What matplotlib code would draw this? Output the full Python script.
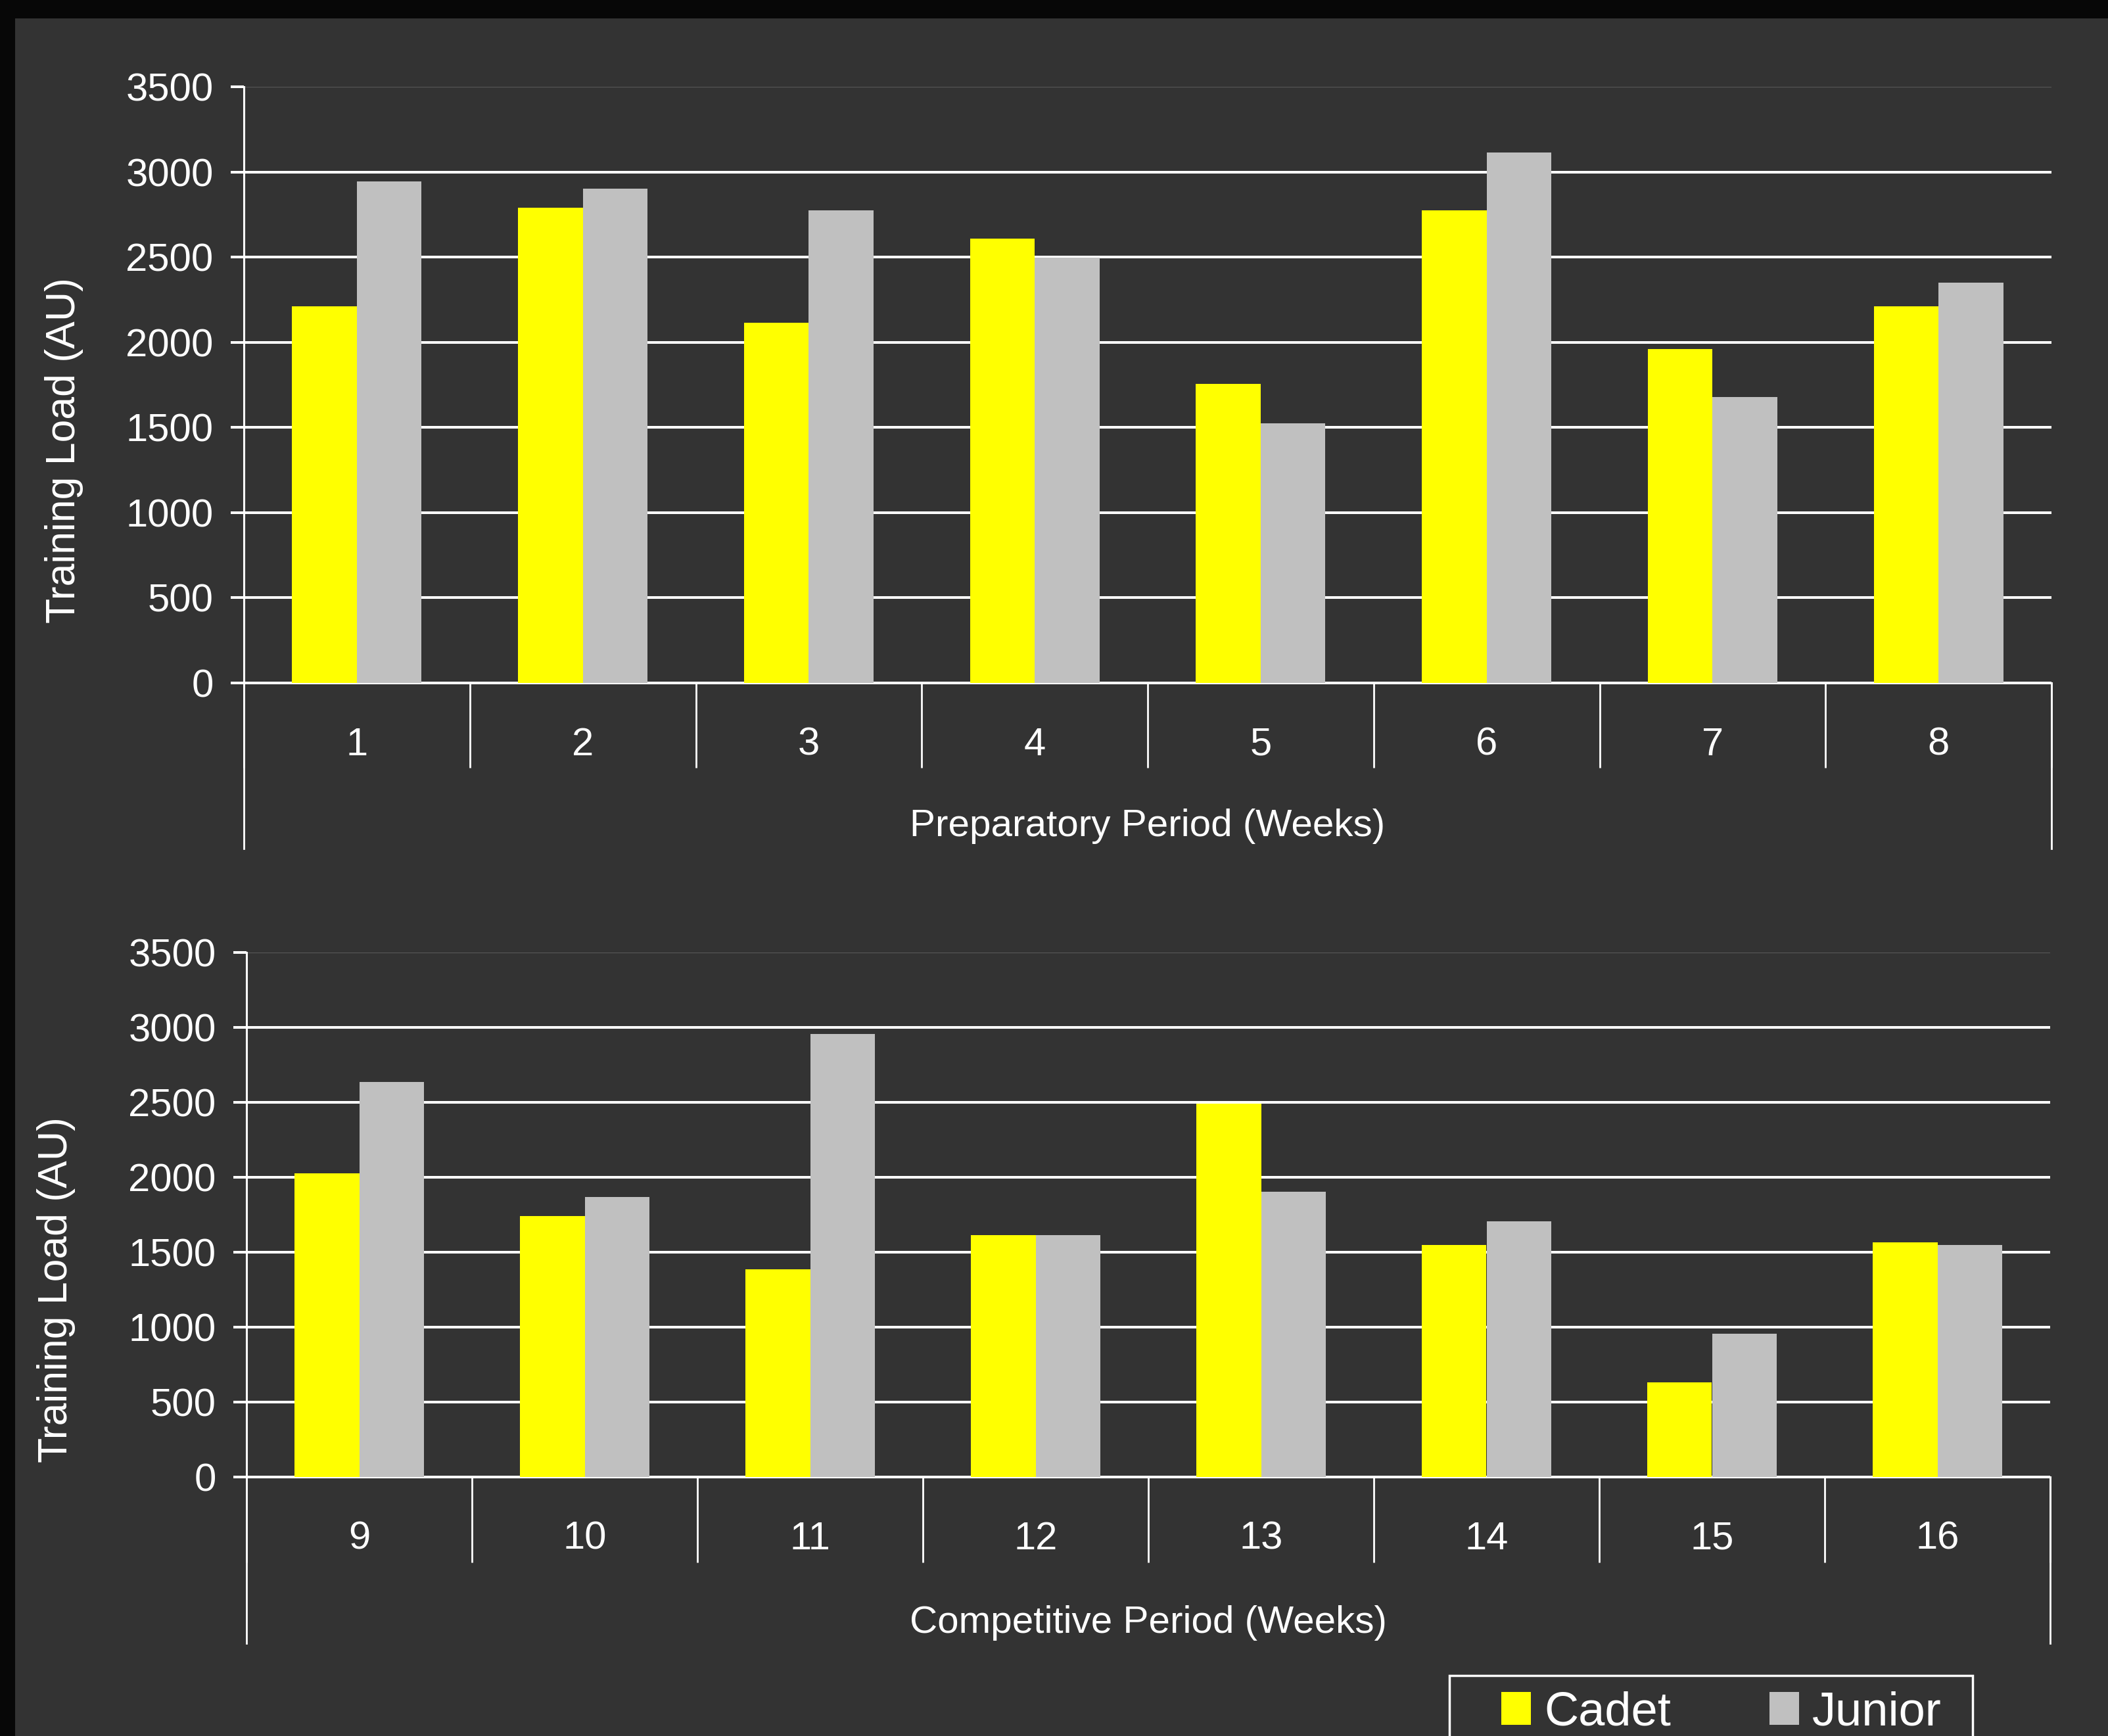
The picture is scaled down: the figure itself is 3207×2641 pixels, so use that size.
import matplotlib
matplotlib.use("Agg")
import matplotlib.pyplot as plt
from matplotlib.patches import Rectangle, Patch
import numpy as np

plt.rcParams['font.family'] = ['Liberation Sans', 'DejaVu Sans']

# data
weeks_prep = ['1', '2', '3', '4', '5', '6', '7', '8']
weeks_comp = ['9', '10', '11', '12', '13', '14', '15', '16']
cadet_prep = [2210, 2790, 2115, 2610, 1757, 2775, 1960, 2210]
junior_prep = [2945, 2900, 2775, 2495, 1525, 3115, 1680, 2350]
cadet_comp = [2025, 1740, 1385, 1615, 2490, 1547, 632, 1565]
junior_comp = [2635, 1867, 2955, 1615, 1902, 1704, 957, 1547]
series_names = ['Cadet', 'Junior']
yticks = [0, 500, 1000, 1500, 2000, 2500, 3000, 3500]

W, H = 3207, 2641
BG = '#333333'
YELLOW = '#FFFF00'
GRAY = '#C0C0C0'

fig = plt.figure(figsize=(W / 100, H / 100), dpi=100, facecolor='#070707')
fig.patches.append(Rectangle((23 / W, 0), 1 - 23 / W, 1 - 28 / H,
                             transform=fig.transFigure, facecolor=BG,
                             edgecolor='none', zorder=-1))


def px_box(x0, y0, x1, y1):
    return [x0 / W, 1 - y1 / H, (x1 - x0) / W, (y1 - y0) / H]


def draw_panel(rect, cats, cadet, junior, xlabel, xlabel_y, ylab_xy, tick_y, cat_bottom):
    x0, y0, x1, y1 = rect
    ax = fig.add_axes(px_box(*rect))
    ax.set_facecolor('none')
    x = np.arange(len(cats))
    w = 0.2865
    ax.bar(x - w / 2, cadet, w, color=YELLOW, zorder=3)
    ax.bar(x + w / 2, junior, w, color=GRAY, zorder=3)
    ax.set_xlim(-0.5, len(cats) - 0.5)
    ax.set_ylim(0, 3500)

    ax.set_axisbelow(True)
    ax.set_yticks(yticks)
    ax.yaxis.grid(True, color='white', lw=2.9)
    top = ax.get_ygridlines()[-1]
    top.set_color('#555555')
    top.set_linewidth(1)
    ax.tick_params(axis='y', length=14.4, width=2.9, color='white',
                   labelsize=43, labelcolor='white', pad=19)

    # category separators and labels
    ax.set_xticks(np.arange(len(cats) + 1) - 0.5)
    ax.set_xticklabels([])
    ax.set_xticks(x, minor=True)
    ax.set_xticklabels(cats, minor=True)
    ax.tick_params(axis='x', which='major', length=(tick_y - y1) * 0.72,
                   width=2, color='white')
    ax.tick_params(axis='x', which='minor', length=0, pad=48,
                   labelsize=43, labelcolor='white')

    for s in ('top', 'right'):
        ax.spines[s].set_visible(False)
    for s in ('left', 'bottom'):
        ax.spines[s].set_color('white')
        ax.spines[s].set_linewidth(2.2)

    ext = (cat_bottom - y1) / (y1 - y0)
    for xa in (0, 1):
        ax.plot([xa, xa], [0, -ext], transform=ax.transAxes, color='white',
                lw=2, clip_on=False)

    fig.text((x0 + x1) / 2 / W, 1 - xlabel_y / H, xlabel, ha='center',
             va='center', color='white', fontsize=42)
    fig.text(ylab_xy[0] / W, 1 - ylab_xy[1] / H, 'Training Load (AU)',
             rotation=90, ha='center', va='center', color='white', fontsize=45)
    return ax


draw_panel((371, 132, 3121, 1039), weeks_prep, cadet_prep, junior_prep,
           'Preparatory Period (Weeks)', 1257, (98, 685), 1168, 1291)
draw_panel((375, 1449, 3119, 2247), weeks_comp, cadet_comp, junior_comp,
           'Competitive Period (Weeks)', 2469, (86, 1962), 2377, 2500)

# legend, box runs off the bottom edge like the original
fig.patches.append(Rectangle((2205 / W, -0.01), (3001 - 2205) / W, 1 - 2549 / H + 0.01,
                             transform=fig.transFigure, facecolor='none',
                             edgecolor='white', lw=2.5, zorder=5))
handles = [Patch(facecolor=YELLOW), Patch(facecolor=GRAY)]
fig.legend(handles, series_names, loc='center left',
           bbox_to_anchor=(2284 / W, 1 - 2606 / H), frameon=False, ncol=2,
           fontsize=52, handlelength=0.625, handleheight=0.68,
           handletextpad=0.28, columnspacing=2.07, borderpad=0,
           borderaxespad=0, labelcolor='white')

fig.savefig('out.png', dpi=100, facecolor=fig.get_facecolor())
